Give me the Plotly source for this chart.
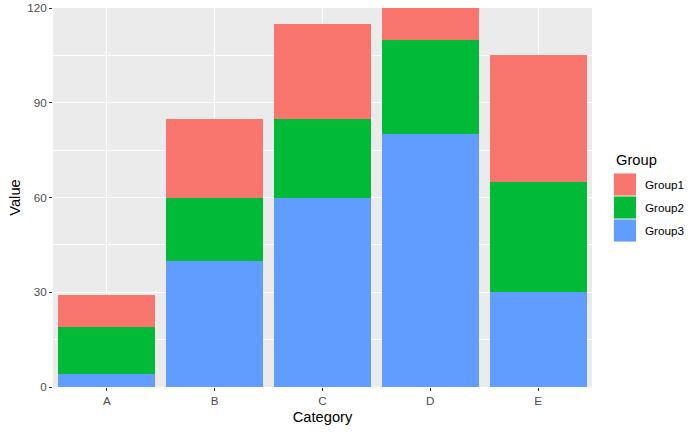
import plotly.graph_objects as go

categories = ["A", "B", "C", "D", "E"]
groups = ["Group1", "Group2", "Group3"]
group1 = [10, 25, 30, 10, 40]
group2 = [15, 20, 25, 30, 35]
group3 = [4, 40, 60, 80, 30]
colors = {"Group1": "#F8766D", "Group2": "#00BA38", "Group3": "#619CFF"}
y_ticks = [0, 30, 60, 90, 120]

values = {"Group1": group1, "Group2": group2, "Group3": group3}

W, H = 700, 432
L, R, T, B = 53, 108, 8, 45
pw, ph = W - L - R, H - T - B

def px_x(px):
    return (px - L) / pw

def px_y(py):
    return (H - B - py) / ph

FONT = "Liberation Sans, Arial, sans-serif"

fig = go.Figure()
for g in ["Group3", "Group2", "Group1"]:
    fig.add_trace(go.Bar(
        x=categories, y=values[g], name=g,
        marker=dict(color=colors[g], line=dict(width=0)),
        width=0.9, showlegend=False, hoverinfo="skip",
    ))

fig.update_layout(
    width=W, height=H,
    barmode="stack",
    margin=dict(l=L, r=R, t=T, b=B, pad=0, autoexpand=False),
    paper_bgcolor="white",
    plot_bgcolor="#EBEBEB",
    font=dict(family=FONT, color="#4D4D4D", size=11.7),
    xaxis=dict(
        range=[-0.5, 4.5], showgrid=True, gridcolor="white", gridwidth=1.1,
        ticks="outside", ticklen=3, tickwidth=1.1, tickcolor="#333333",
        tickfont=dict(size=11.7, color="#4D4D4D"), automargin=False,
        title=dict(text="Category", font=dict(size=14.7, color="black"), standoff=5),
        zeroline=False, showline=False,
    ),
    yaxis=dict(
        range=[0, 120], tickvals=y_ticks, showgrid=True, gridcolor="white", gridwidth=1.1,
        minor=dict(dtick=15, tick0=0, showgrid=True, gridcolor="white", gridwidth=0.55, ticks=""),
        ticks="outside", ticklen=3, tickwidth=1.1, tickcolor="#333333",
        tickfont=dict(size=11.7, color="#4D4D4D"), automargin=False,
        title=dict(text="Value", font=dict(size=14.7, color="black"), standoff=2),
        zeroline=False, showline=False,
    ),
)

# Legend drawn manually (ggplot style)
shapes = []
annotations = [dict(
    x=px_x(614), y=px_y(160), xref="paper", yref="paper", text="Group",
    showarrow=False, xanchor="left", yanchor="middle",
    font=dict(size=14.7, color="black", family=FONT),
)]
key_top = 173
key_h = 23
for i, g in enumerate(groups):
    y0 = key_top + i * key_h
    shapes.append(dict(
        type="rect", xref="paper", yref="paper",
        x0=px_x(613), x1=px_x(636), y0=px_y(y0 + key_h), y1=px_y(y0),
        fillcolor="#F2F2F2", line=dict(width=0), layer="above",
    ))
    shapes.append(dict(
        type="rect", xref="paper", yref="paper",
        x0=px_x(614), x1=px_x(636), y0=px_y(y0 + key_h - 0.5), y1=px_y(y0 + 0.5),
        fillcolor=colors[g], line=dict(width=0), layer="above",
    ))
    annotations.append(dict(
        x=px_x(643), y=px_y(y0 + key_h / 2), xref="paper", yref="paper", text=g,
        showarrow=False, xanchor="left", yanchor="middle",
        font=dict(size=11.7, color="black", family=FONT),
    ))
fig.update_layout(shapes=shapes, annotations=annotations)

fig.write_html("out.html", config={"displayModeBar": False},
               post_script="document.body.style.margin='0';")
